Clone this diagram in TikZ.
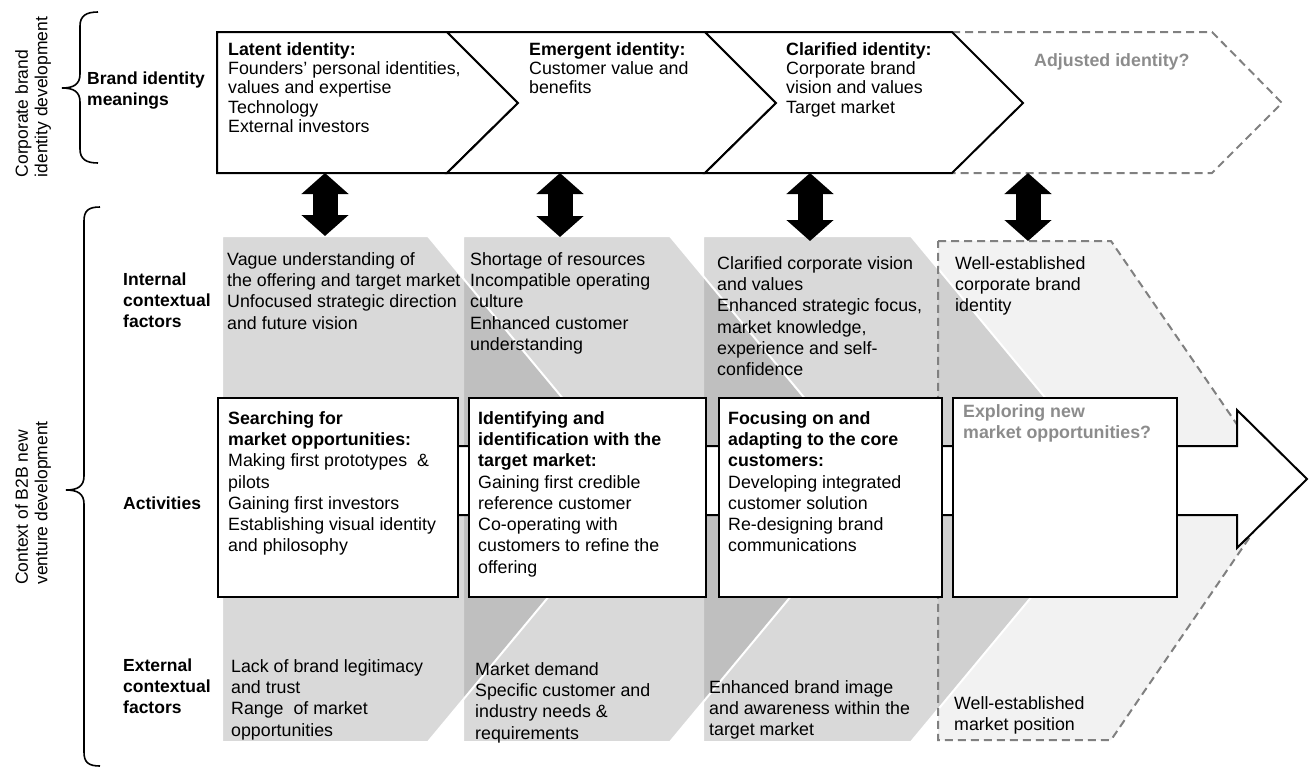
\documentclass[tikz,border=0pt]{standalone}
\usepackage{fontspec}
\setmainfont{Liberation Sans}
\usetikzlibrary{arrows.meta,positioning}
\definecolor{shade}{gray}{0.527}
\definecolor{lightcol}{HTML}{F2F2F2}
\definecolor{dashcol}{HTML}{808080}
\definecolor{greytext}{HTML}{8C8C8C}

\begin{document}
\begin{tikzpicture}[x=1pt,y=-1pt,
    txt/.style={anchor=north west,align=left,inner sep=0pt,font=\fontsize{17.8}{21.3}\selectfont},
    chtxt/.style={txt,font=\fontsize{17.8}{19.3}\selectfont},
    lbl/.style={txt,font=\bfseries\fontsize{17.5}{21}\selectfont},
    side/.style={rotate=90,align=left,inner sep=0pt,font=\fontsize{17.5}{19.5}\selectfont},
    chev/.style={draw=black,fill=white,line width=2pt},
    dashline/.style={draw=dashcol,line width=2pt,dash pattern=on 8pt off 5pt},
    column/.style={fill=shade,fill opacity=0.315,draw=white,line width=2pt},
    actbox/.style={draw=black,fill=white,line width=2.2pt,minimum width=#1,minimum height=199pt,inner sep=0pt,anchor=north west},
    dbl/.style={line width=25pt,{Triangle[width=46pt,length=21pt]}-{Triangle[width=46pt,length=21pt]}},
    brace/.style={line width=1.6pt}]
    \useasboundingbox (0,0) rectangle (1315,769);

    \begin{scope}
    \fill[lightcol] (938,241) -- (1111,241) -- (1282,490) -- (1111,740) -- (938,740) -- cycle;
    \draw[column] (703,236) -- (911,236) -- (1121,489) -- (911,742) -- (703,742) -- cycle;
    \draw[column] (463,236) -- (670,236) -- (880,489) -- (670,742) -- (463,742) -- cycle;
    \draw[column] (222,236) -- (428,236) -- (638,489) -- (428,742) -- (222,742) -- cycle;
    \draw[dashline] (938,241) -- (1111,241) -- (1282,490) -- (1111,740) -- (938,740) -- cycle;
    \draw[chev] (230,446) -- (1237,446) -- (1237,410) -- (1307,479) -- (1237,548) -- (1237,515) -- (230,515) -- cycle;

    \node[actbox=240pt](box1) at (217,397) {};
    \node[actbox=237pt](box2) at (468,397) {};
    \node[actbox=223pt](box3) at (718,397) {};
    \node[actbox=224pt](box4) at (952,397) {};
    \end{scope}

    \begin{scope}
    \draw[dashline] (952,32) -- (1212,32) -- (1282,103) -- (1212,173) -- (952,173);
    \draw[chev] (217,32) -- (447,32) -- (518,103) -- (447,173) -- (217,173) -- cycle;
    \draw[chev] (447,32) -- (705,32) -- (776,103) -- (705,173) -- (447,173) -- (518,103) -- cycle;
    \draw[chev] (705,32) -- (952,32) -- (1023,103) -- (952,173) -- (705,173) -- (776,103) -- cycle;

    \coordinate (up1) at (325,173);
    \coordinate (up2) at (560,173);
    \coordinate (up3) at (810,173);
    \coordinate (up4) at (1028,173);
    \coordinate (dn1) at (325,236);
    \coordinate (dn2) at (560,237);
    \coordinate (dn3) at (810,241);
    \coordinate (dn4) at (1028,241);
    \draw[dbl] (up1) -- (dn1);
    \draw[dbl] (up2) -- (dn2);
    \draw[dbl] (up3) -- (dn3);
    \draw[dbl] (up4) -- (dn4);
    \end{scope}

    \node[chtxt](c1t) at (228,42) {\textbf{Latent identity:}\\Founders' personal identities,\\values and expertise\\Technology\\External investors};
    \node[chtxt](c2t) at (529,42) {\textbf{Emergent identity:}\\Customer value and\\benefits};
    \node[chtxt](c3t) at (786,42) {\textbf{Clarified identity:}\\Corporate brand\\vision and values\\Target market};
    \node[chtxt,text=greytext](c4t) at (1034,53) {\textbf{Adjusted identity?}};

    \node[txt](in1) at (227,252) {Vague understanding of\\the offering and target market\\Unfocused strategic direction\\and future vision};
    \node[txt](in2) at (470,252) {Shortage of resources\\Incompatible operating\\culture\\Enhanced customer\\understanding};
    \node[txt](in3) at (717,256) {Clarified corporate vision\\and values\\Enhanced strategic focus,\\market knowledge,\\experience and self-\\confidence};
    \node[txt](in4) at (955,256) {Well-established\\corporate brand\\identity};

    \node[txt](act1) at (228,411) {\textbf{Searching for}\\\textbf{market opportunities:}\\Making first prototypes~~\&\\pilots\\Gaining first investors\\Establishing visual identity\\and philosophy};
    \node[txt](act2) at (478,411) {\textbf{Identifying and}\\\textbf{identification with the}\\\textbf{target market:}\\Gaining first credible\\reference customer\\Co-operating with\\customers to refine the\\offering};
    \node[txt](act3) at (728,411) {\textbf{Focusing on and}\\\textbf{adapting to the core}\\\textbf{customers:}\\Developing integrated\\customer solution\\Re-designing brand\\communications};
    \node[txt,text=greytext](act4) at (963,404) {\textbf{Exploring new}\\\textbf{market opportunities?}};

    \node[txt](ex1) at (231,659) {Lack of brand legitimacy\\and trust\\Range~~of market\\opportunities};
    \node[txt](ex2) at (475,662) {Market demand\\Specific customer and\\industry needs \&\\requirements};
    \node[txt](ex3) at (709,680) {Enhanced brand image\\and awareness within the\\target market};
    \node[txt](ex4) at (954,696) {Well-established\\market position};

    \node[lbl](lbrand) at (87,72) {Brand identity\\meanings};
    \node[lbl](lint) at (123,273) {Internal\\contextual\\factors};
    \node[lbl](lact) at (123,497) {Activities};
    \node[lbl](lext) at (123,659) {External\\contextual\\factors};

    \node[side](scorp) at (33,97) {Corporate brand\\identity development};
    \node[side](sctx) at (33,503) {Context of B2B new\\venture development};

    \draw[brace] (98,12) .. controls (86,12) and (80,16) .. (80,26) -- (80,74) .. controls (80,84) and (74,88) .. (62,88) .. controls (74,88) and (80,92) .. (80,102) -- (80,149) .. controls (80,159) and (86,163) .. (98,163);
    \draw[brace] (100,207) .. controls (88,207) and (84,211) .. (84,221) -- (84,476) .. controls (84,486) and (78,490) .. (66,490) .. controls (78,490) and (84,494) .. (84,504) -- (84,752) .. controls (84,762) and (88,766) .. (100,766);
\end{tikzpicture}
\end{document}
